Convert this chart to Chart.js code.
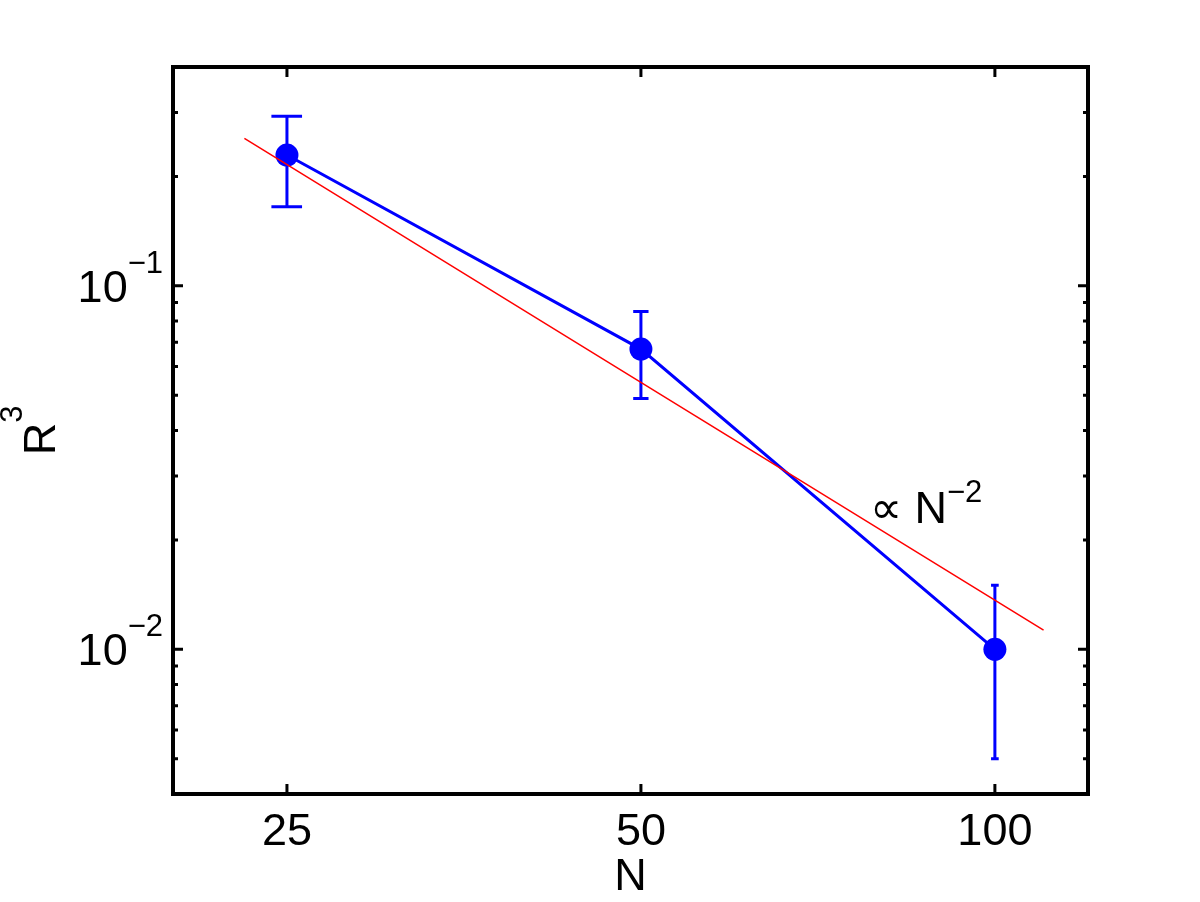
<!DOCTYPE html>
<html>
<head>
<meta charset="utf-8">
<script src="https://cdn.jsdelivr.net/npm/chart.js@4.4.1/dist/chart.umd.min.js"></script>
<style>
  html, body { margin: 0; padding: 0; background: #fff; }
</style>
</head>
<body>
<canvas id="r3Chart" width="1200" height="902"></canvas>
<script>
// data
const sizes = [25, 50, 100];
const r3Values = [0.229, 0.0670, 0.0100];
const r3Errors = [0.064, 0.018, 0.005];

// fitted power-law line (end points)
const fitSizes = [23, 110];
const fitValues = [0.2545, 0.0113];

// ticks
const xTicks = [25, 50, 100];
const yTicks = [0.01, 0.1];
const yTickExponents = ['\u22122', '\u22121'];
const yMinorTicks = [0.005, 0.006, 0.007, 0.008, 0.009,
  0.02, 0.03, 0.04, 0.05, 0.06, 0.07, 0.08, 0.09, 0.2, 0.3];

// annotation
const annotText = '\u221D N';
const annotExponent = '\u22122';
const annotPos = { x: 78.3, y: 0.0223 };

const FONT = "'Liberation Sans', Arial, Helvetica, sans-serif";
const BIG = 45;
const SMALL = 31;

// draws base text with a raised exponent, starting at x (left aligned)
function drawPower(ctx, base, exp, x, y, raise) {
  ctx.font = BIG + 'px ' + FONT;
  ctx.textAlign = 'left';
  ctx.textBaseline = 'alphabetic';
  ctx.fillText(base, x, y);
  const w = ctx.measureText(base).width;
  ctx.font = SMALL + 'px ' + FONT;
  ctx.fillText(exp, x + w, y - raise);
}

function powerWidth(ctx, base, exp) {
  ctx.font = BIG + 'px ' + FONT;
  const w1 = ctx.measureText(base).width;
  ctx.font = SMALL + 'px ' + FONT;
  return w1 + ctx.measureText(exp).width;
}

const errorBars = {
  id: 'errorBars',
  beforeDatasetsDraw(chart) {
    const { ctx, scales: { x, y } } = chart;
    const tee = (Math.max(...sizes) - Math.min(...sizes)) / 100;
    ctx.save();
    ctx.strokeStyle = '#0000ff';
    ctx.lineWidth = 3;
    sizes.forEach((n, i) => {
      const px = x.getPixelForValue(n);
      const top = y.getPixelForValue(r3Values[i] + r3Errors[i]);
      const bot = y.getPixelForValue(r3Values[i] - r3Errors[i]);
      const xl = x.getPixelForValue(n - tee);
      const xr = x.getPixelForValue(n + tee);
      ctx.beginPath();
      ctx.moveTo(px, top); ctx.lineTo(px, bot);
      ctx.moveTo(xl, top); ctx.lineTo(xr, top);
      ctx.moveTo(xl, bot); ctx.lineTo(xr, bot);
      ctx.stroke();
    });
    ctx.restore();
  }
};

const frameAndLabels = {
  id: 'frameAndLabels',
  afterDraw(chart) {
    const { ctx, chartArea: a, scales: { x, y } } = chart;
    ctx.save();
    ctx.strokeStyle = '#000';
    ctx.fillStyle = '#000';

    // inward ticks
    ctx.lineWidth = 3;
    ctx.beginPath();
    xTicks.forEach(v => {
      const px = x.getPixelForValue(v);
      ctx.moveTo(px, a.bottom); ctx.lineTo(px, a.bottom - 10);
      ctx.moveTo(px, a.top); ctx.lineTo(px, a.top + 10);
    });
    yTicks.forEach(v => {
      const py = y.getPixelForValue(v);
      ctx.moveTo(a.left, py); ctx.lineTo(a.left + 10, py);
      ctx.moveTo(a.right, py); ctx.lineTo(a.right - 10, py);
    });
    yMinorTicks.forEach(v => {
      const py = y.getPixelForValue(v);
      ctx.moveTo(a.left, py); ctx.lineTo(a.left + 5, py);
      ctx.moveTo(a.right, py); ctx.lineTo(a.right - 5, py);
    });
    ctx.stroke();

    // box
    ctx.lineWidth = 4;
    ctx.strokeRect(a.left, a.top, a.right - a.left, a.bottom - a.top);

    // y tick labels 10^-n
    yTicks.forEach((v, i) => {
      const py = y.getPixelForValue(v);
      const w = powerWidth(ctx, '10', yTickExponents[i]);
      drawPower(ctx, '10', yTickExponents[i], a.left - 10 - w, py + 16, 29);
    });

    // y title R^3, rotated
    ctx.save();
    const midY = (a.top + a.bottom) / 2;
    ctx.translate(55, midY);
    ctx.rotate(-Math.PI / 2);
    const tw = powerWidth(ctx, 'R', '3');
    drawPower(ctx, 'R', '3', -tw / 2, 0, 33);
    ctx.restore();

    // annotation
    drawPower(ctx, annotText, annotExponent,
      x.getPixelForValue(annotPos.x), y.getPixelForValue(annotPos.y), 21);

    ctx.restore();
  }
};

const ctx = document.getElementById('r3Chart').getContext('2d');
new Chart(ctx, {
  type: 'scatter',
  data: {
    datasets: [
      {
        label: 'fit',
        data: fitSizes.map((n, i) => ({ x: n, y: fitValues[i] })),
        showLine: true,
        borderColor: '#ff0000',
        borderWidth: 1.5,
        pointRadius: 0
      },
      {
        label: 'R3',
        data: sizes.map((n, i) => ({ x: n, y: r3Values[i] })),
        showLine: true,
        borderColor: '#0000ff',
        borderWidth: 3,
        pointRadius: 11.5,
        pointBackgroundColor: '#0000ff',
        pointBorderWidth: 0
      }
    ]
  },
  options: {
    responsive: false,
    animation: false,
    devicePixelRatio: 1,
    layout: { padding: { left: 0, right: 112, top: 67, bottom: 0 } },
    plugins: {
      legend: { display: false },
      tooltip: { enabled: false }
    },
    scales: {
      x: {
        type: 'logarithmic',
        position: 'bottom',
        min: 20,
        max: 120,
        afterBuildTicks: s => { s.ticks = xTicks.map(v => ({ value: v })); },
        afterFit: s => { s.height = 108; },
        grid: { display: false },
        border: { display: false },
        ticks: {
          autoSkip: false,
          maxRotation: 0,
          padding: 4,
          color: '#000',
          font: { family: FONT, size: BIG },
          callback: v => String(v)
        },
        title: {
          display: true,
          text: 'N',
          color: '#000',
          font: { family: FONT, size: BIG },
          padding: { top: 0, bottom: -3 }
        }
      },
      y: {
        type: 'logarithmic',
        min: 0.004,
        max: 0.4,
        afterBuildTicks: s => { s.ticks = yTicks.map(v => ({ value: v })); },
        afterFit: s => { s.width = 173; },
        grid: { display: false },
        border: { display: false },
        ticks: { display: false }
      }
    }
  },
  plugins: [errorBars, frameAndLabels]
});
</script>
</body>
</html>
